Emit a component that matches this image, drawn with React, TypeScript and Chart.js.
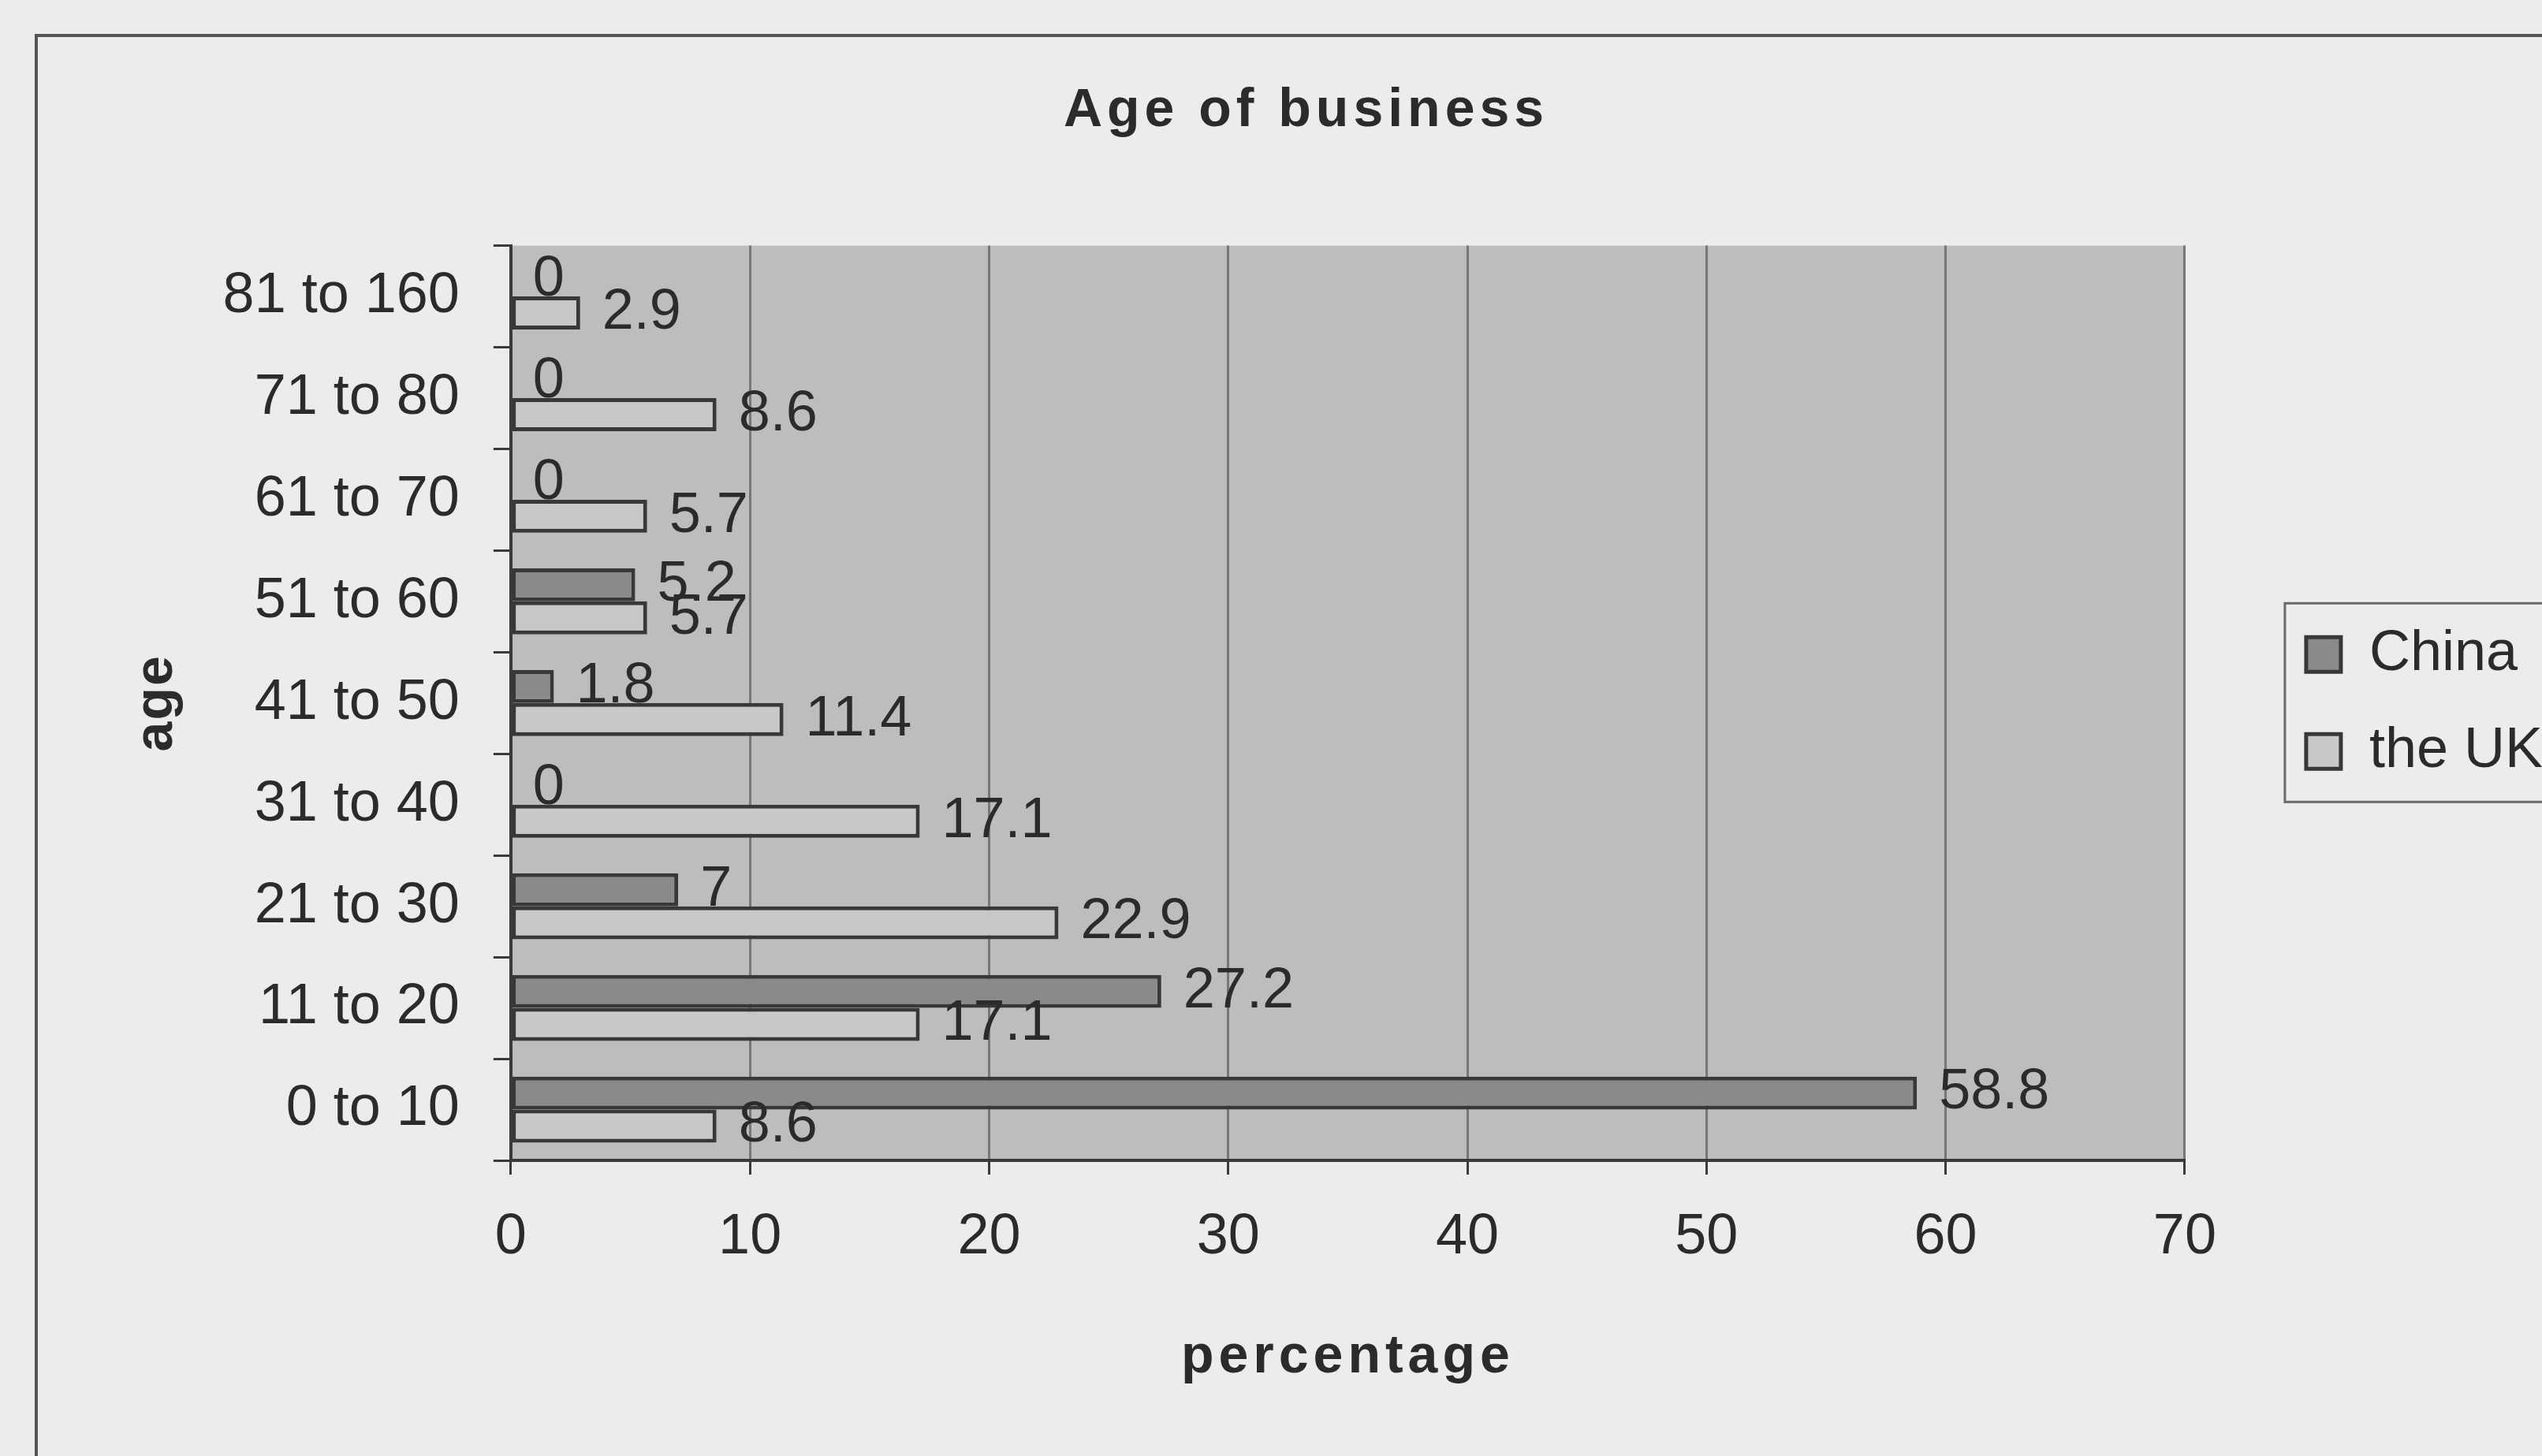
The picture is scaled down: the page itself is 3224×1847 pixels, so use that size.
import { useEffect, useRef } from 'react';
import { Chart, registerables } from 'chart.js';

Chart.register(...registerables);

// ---- data ----
const chartTitle = 'Age of business';
const categories = ['81 to 160', '71 to 80', '61 to 70', '51 to 60', '41 to 50', '31 to 40', '21 to 30', '11 to 20', '0 to 10'];
const seriesNames = ['China', 'the UK'];
const chinaValues = [0, 0, 0, 5.2, 1.8, 0, 7, 27.2, 58.8];
const ukValues = [2.9, 8.6, 5.7, 5.7, 11.4, 17.1, 22.9, 17.1, 8.6];
const xTickValues = [0, 10, 20, 30, 40, 50, 60, 70];
const xAxisTitle = 'percentage';
const yAxisTitle = 'age';

const FONT = "'Liberation Sans', Arial, Helvetica, sans-serif";
const TEXT = '#2b2b2b';
const PAPER = '#ececec';
const PLOT_BG = '#bdbdbd';
const CHINA_FILL = '#8a8a8a';
const UK_FILL = '#c8c8c8';
const BAR_EDGE = '#383838';
const CANVAS_W = 3240;
const CANVAS_H = 1847;

export default function App() {
  const ref = useRef<HTMLCanvasElement | null>(null);

  useEffect(() => {
    const canvas = ref.current;
    if (!canvas) return;

    const wrapSpaced = (chart: any, obj: any, key: string, spacing: string, dx = 0) => {
      if (!obj || obj['__wrapped_' + key]) return;
      const orig = obj[key];
      obj[key] = function (...args: any[]) {
        const ctx = chart.ctx;
        ctx.save();
        ctx.letterSpacing = spacing;
        if (dx) ctx.translate(dx, 0);
        const r = orig.apply(this, args);
        ctx.restore();
        return r;
      };
      obj['__wrapped_' + key] = true;
    };

    const paperPlugin = {
      id: 'paperPlugin',
      afterLayout(chart: any) {
        wrapSpaced(chart, chart.titleBlock, 'draw', '6px', -40);
        wrapSpaced(chart, chart.scales.x, 'drawTitle', '6px');
        wrapSpaced(chart, chart.scales.y, 'drawTitle', '2px');
      },
      beforeDraw(chart: any) {
        const { ctx, chartArea: a, width, height } = chart;
        ctx.save();
        ctx.fillStyle = PAPER;
        ctx.fillRect(0, 0, width, height);
        // page frame
        ctx.strokeStyle = '#555555';
        ctx.lineWidth = 4;
        ctx.beginPath();
        ctx.moveTo(46, height + 5);
        ctx.lineTo(46, 45);
        ctx.lineTo(width + 5, 45);
        ctx.stroke();
        // plot area
        ctx.fillStyle = PLOT_BG;
        ctx.fillRect(a.left, a.top, a.right - a.left, a.bottom - a.top);
        ctx.restore();
      },
      afterDatasetsDraw(chart: any) {
        const ctx = chart.ctx;
        ctx.save();
        ctx.font = `72px ${FONT}`;
        ctx.fillStyle = TEXT;
        ctx.textAlign = 'left';
        ctx.textBaseline = 'middle';
        chart.data.datasets.forEach((ds: any, di: number) => {
          const meta = chart.getDatasetMeta(di);
          meta.data.forEach((bar: any, i: number) => {
            ctx.fillText(String(ds.data[i]), bar.x + 28, bar.y);
          });
        });
        ctx.restore();
      },
      afterDraw(chart: any) {
        const hb = chart.legend && chart.legend.legendHitBoxes;
        if (!hb || !hb.length) return;
        const ctx = chart.ctx;
        const first = hb[0];
        const last = hb[hb.length - 1];
        const top = first.top - 29;
        const bottom = last.top + 100;
        ctx.save();
        ctx.strokeStyle = '#6a6a6a';
        ctx.lineWidth = 3;
        ctx.strokeRect(first.left - 27, top, chart.width, bottom - top);
        ctx.restore();
      },
    };

    const chart = new Chart(canvas, {
      type: 'bar',
      data: {
        labels: categories,
        datasets: [
          {
            label: seriesNames[0],
            data: chinaValues,
            backgroundColor: CHINA_FILL,
            borderColor: BAR_EDGE,
            borderWidth: 5,
            borderSkipped: false,
            categoryPercentage: 0.65,
            barPercentage: 1,
            xAxisID: 'x',
            yAxisID: 'y',
          },
          {
            label: seriesNames[1],
            data: ukValues,
            backgroundColor: UK_FILL,
            borderColor: BAR_EDGE,
            borderWidth: 5,
            borderSkipped: false,
            categoryPercentage: 0.65,
            barPercentage: 1,
            xAxisID: 'x',
            yAxisID: 'y',
          },
        ],
      },
      options: {
        indexAxis: 'y',
        responsive: false,
        animation: false,
        events: [],
        layout: { padding: { top: 0, left: 158, right: 5, bottom: 74 } },
        plugins: {
          title: {
            display: true,
            text: chartTitle,
            color: TEXT,
            font: { family: FONT, size: 68, weight: 'bold' },
            padding: { top: 100, bottom: 130 },
          },
          legend: {
            display: true,
            position: 'right',
            fullSize: false,
            align: 'center',
            labels: {
              color: TEXT,
              font: { family: FONT, size: 72 },
              boxWidth: 44,
              boxHeight: 44,
              padding: 51,
            },
          },
          tooltip: { enabled: false },
        },
        scales: {
          x: {
            type: 'linear',
            position: 'bottom',
            min: xTickValues[0],
            max: xTickValues[xTickValues.length - 1],
            ticks: {
              stepSize: xTickValues[1] - xTickValues[0],
              color: TEXT,
              font: { family: FONT, size: 72 },
              padding: 37,
            },
            grid: {
              color: '#777777',
              lineWidth: 3,
              tickColor: '#3a3a3a',
              tickLength: 18,
              tickWidth: 3,
            },
            border: { color: '#3a3a3a', width: 4 },
            title: {
              display: true,
              text: xAxisTitle,
              color: TEXT,
              font: { family: FONT, size: 68, weight: 'bold' },
              padding: { top: 31, bottom: 10 },
            },
          },
          y: {
            type: 'category',
            position: 'left',
            grid: {
              drawOnChartArea: false,
              color: '#3a3a3a',
              lineWidth: 3,
              tickLength: 22,
            },
            border: { color: '#3a3a3a', width: 4 },
            ticks: {
              color: TEXT,
              font: { family: FONT, size: 72 },
              padding: 43,
            },
            title: {
              display: true,
              text: yAxisTitle,
              color: TEXT,
              font: { family: FONT, size: 68, weight: 'bold' },
              padding: { top: 0, bottom: 0 },
            },
          },
          y2: {
            type: 'linear',
            position: 'right',
            display: true,
            grid: { display: false },
            ticks: { display: false },
            border: { display: false },
            afterFit: (s: any) => {
              s.width = 103;
            },
          },
        },
      },
      plugins: [paperPlugin],
    } as any);

    return () => {
      chart.destroy();
    };
  }, []);

  return (
    <div
      style={{
        position: 'fixed',
        left: 0,
        top: 0,
        width: 3224,
        height: 1847,
        overflow: 'hidden',
        background: PAPER,
      }}
    >
      <canvas ref={ref} width={CANVAS_W} height={CANVAS_H} style={{ display: 'block' }} />
    </div>
  );
}
